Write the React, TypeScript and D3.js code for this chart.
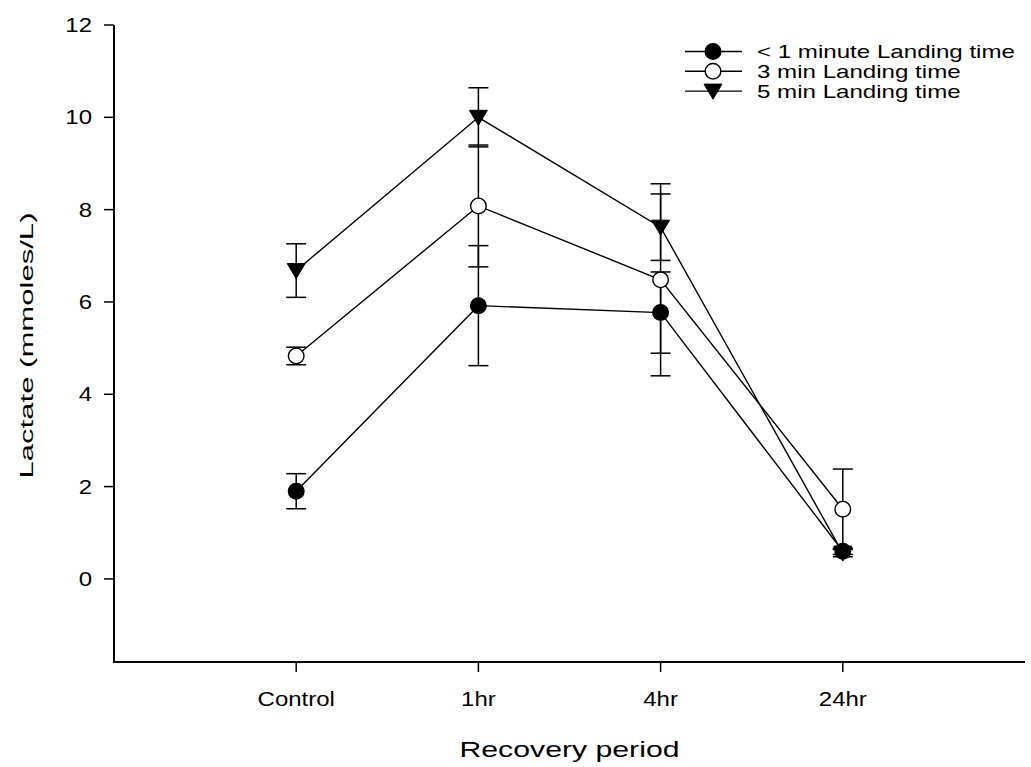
import React from "react";
import * as d3 from "d3";

const categories = ["Control", "1hr", "4hr", "24hr"];
const yTicks = [0, 2, 4, 6, 8, 10, 12];

const seriesNames = ["< 1 minute Landing time", "3 min Landing time", "5 min Landing time"];
const lt1Values = [1.9, 5.92, 5.77, 0.6];
const lt1Errors = [0.38, 1.3, 0.88, 0.07];
const min3Values = [4.83, 8.08, 6.48, 1.51];
const min3Errors = [0.19, 1.32, 2.08, 0.87];
const min5Values = [6.68, 10.0, 7.62, 0.56];
const min5Errors = [0.58, 0.64, 0.72, 0.08];

const FONT = "'Liberation Sans', Arial, sans-serif";
const SX = 1.23;

type Marker = "filled" | "open" | "triangle";

function MarkerShape({ type, x, y }: { type: Marker; x: number; y: number }) {
  if (type === "triangle") {
    const p = `M${x - 9},${y - 7} L${x + 9},${y - 7} L${x},${y + 8} Z`;
    return <path d={p} fill="#000" stroke="#000" strokeWidth={1} />;
  }
  return (
    <circle
      cx={x}
      cy={y}
      r={7.8}
      fill={type === "filled" ? "#000" : "#fff"}
      stroke="#000"
      strokeWidth={1.4}
    />
  );
}

function SText({ x, y, anchor, size, sx, children }: any) {
  return (
    <text
      transform={`translate(${x},${y}) scale(${sx ?? SX},1)`}
      textAnchor={anchor}
      fontFamily={FONT}
      fontSize={size}
      fill="#000"
    >
      {children}
    </text>
  );
}

export default function App() {
  const W = 1031;
  const H = 767;
  const x = d3.scaleLinear().domain([0, 5]).range([114, 1025]);
  const y = d3.scaleLinear().domain([-1.8, 12]).range([662, 25]);

  const series = [
    { name: seriesNames[0], values: lt1Values, errors: lt1Errors, marker: "filled" as Marker },
    { name: seriesNames[1], values: min3Values, errors: min3Errors, marker: "open" as Marker },
    { name: seriesNames[2], values: min5Values, errors: min5Errors, marker: "triangle" as Marker },
  ];

  const line = d3
    .line<number>()
    .x((_, i) => x(i + 1))
    .y((d) => y(d));

  const [y0, y1] = y.range();
  const [x0, x1] = x.range();

  return (
    <svg width={W} height={H} style={{ position: "absolute", left: 0, top: 0 }}>
      <rect width={W} height={H} fill="#fff" />
      {/* data lines */}
      {series.map((s) => (
        <path key={s.name + "l"} d={line(s.values) || ""} fill="none" stroke="#000" strokeWidth={1.4} />
      ))}
      {/* error bars */}
      {series.map((s) =>
        s.values.map((v, i) => {
          const cx = x(i + 1);
          const lo = y(v - s.errors[i]);
          const hi = y(v + s.errors[i]);
          return (
            <g key={s.name + "e" + i} stroke="#000" strokeWidth={1.5}>
              <line x1={cx} x2={cx} y1={lo} y2={hi} />
              <line x1={cx - 10} x2={cx + 10} y1={lo} y2={lo} />
              <line x1={cx - 10} x2={cx + 10} y1={hi} y2={hi} />
            </g>
          );
        })
      )}
      {/* markers */}
      {series.map((s) =>
        s.values.map((v, i) => <MarkerShape key={s.name + "m" + i} type={s.marker} x={x(i + 1)} y={y(v)} />)
      )}
      {/* axes */}
      <line x1={x0} x2={x0} y1={y1} y2={y0 + 1} stroke="#000" strokeWidth={2} />
      <line x1={x0 - 1} x2={x1} y1={y0} y2={y0} stroke="#000" strokeWidth={2} />
      {yTicks.map((t) => (
        <g key={"yt" + t}>
          <line x1={x0 - 10} x2={x0} y1={y(t)} y2={y(t)} stroke="#000" strokeWidth={1.5} />
          <SText x={x0 - 22} y={y(t) + 7} anchor="end" size={19.5}>
            {t}
          </SText>
        </g>
      ))}
      {categories.map((c, i) => (
        <g key={"xt" + c}>
          <line x1={x(i + 1)} x2={x(i + 1)} y1={y0} y2={y0 + 10} stroke="#000" strokeWidth={1.5} />
          <SText x={x(i + 1)} y={706} anchor="middle" size={19.5}>
            {c}
          </SText>
        </g>
      ))}
      {/* axis titles */}
      <text
        x={(x0 + x1) / 2}
        y={757}
        textAnchor="middle"
        fontFamily={FONT}
        fontSize={22}
        textLength={220}
        lengthAdjust="spacingAndGlyphs"
        fill="#000"
      >
        Recovery period
      </text>
      <text
        transform={`translate(33,${(y0 + y1) / 2 + 2}) rotate(-90)`}
        textAnchor="middle"
        fontFamily={FONT}
        fontSize={19}
        textLength={266}
        lengthAdjust="spacingAndGlyphs"
        fill="#000"
      >
        Lactate (mmoles/L)
      </text>
      {/* legend */}
      {series.map((s, i) => {
        const ly = 51.5 + i * 19.8;
        return (
          <g key={s.name + "lg"}>
            <line x1={685} x2={742} y1={ly} y2={ly} stroke="#000" strokeWidth={1.4} />
            <MarkerShape type={s.marker} x={713} y={ly} />
            <SText x={757} y={ly + 6.5} anchor="start" size={18} sx={1.34}>
              {s.name}
            </SText>
          </g>
        );
      })}
    </svg>
  );
}
